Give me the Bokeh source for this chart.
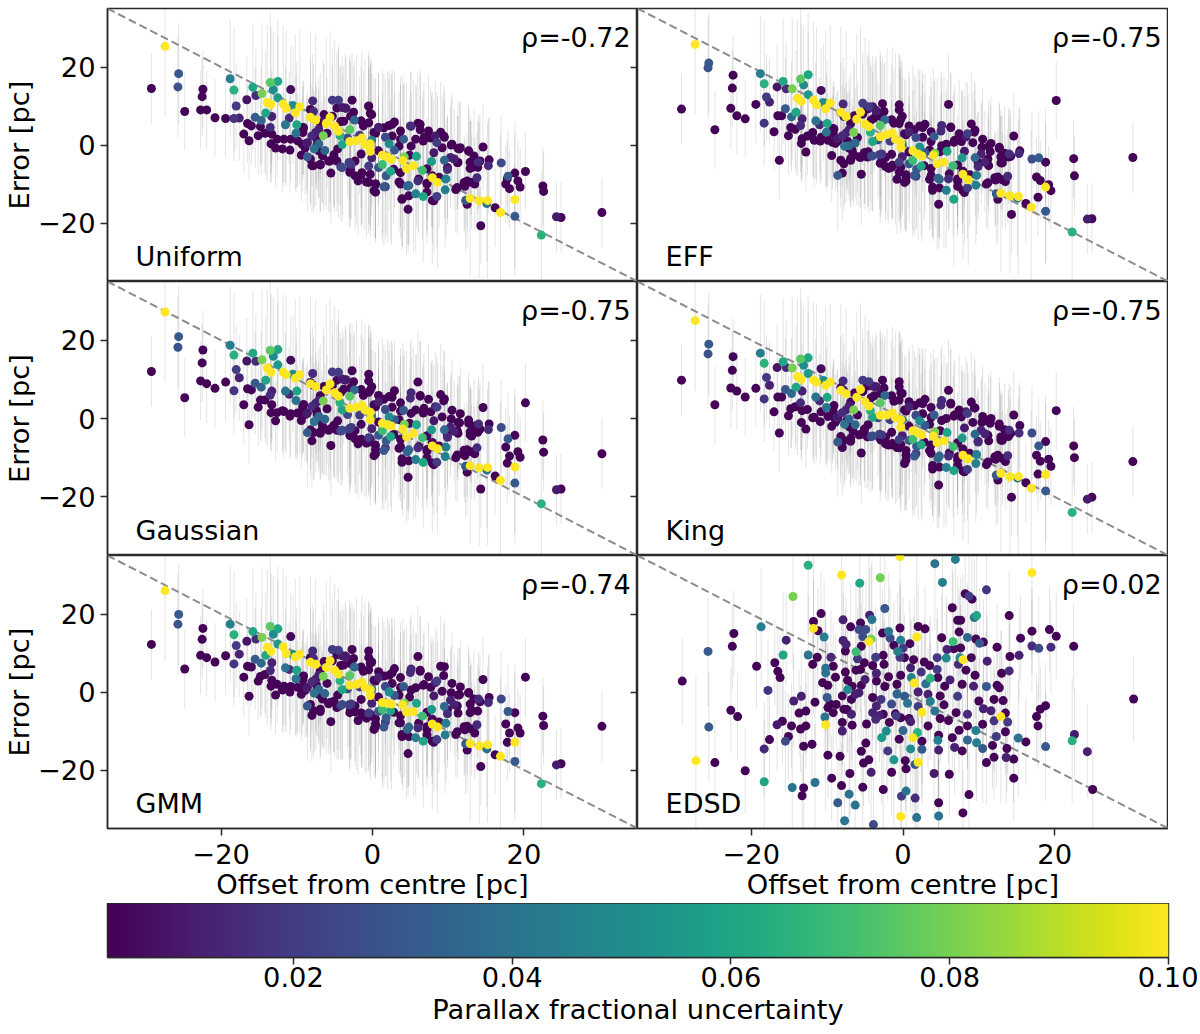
from bokeh.plotting import figure
from bokeh.layouts import column, row
from bokeh.models import FixedTicker, Label, LinearAxis, LinearColorMapper, ColumnDataSource
from bokeh.palettes import Viridis256
from bokeh.embed import file_html
from bokeh.resources import INLINE
import numpy as np

offset = [
-27.4,-29.2,-25.6,-25.7,-24.8,-22.4,-22.5,-22.7,-21.9,-20.8,
-19.4,-18.3,-17.6,-18,-16.6,-18.8,-18.3,-15.8,-14.6,-15.4,
-13.5,-12.5,-13.1,-10.8,-12.5,-13.9,-13.4,-11.8,-11.4,-10.5,
-9.6,-10.2,-14.1,-15.5,-14.7,-13.3,-16.5,-16,-14.8,-13.5,
-17,-16.3,-15.1,-14.2,-13.3,-12.6,-13.4,-12.8,-11.9,-10.9,
-11.7,-10.8,-9.9,-8.7,-9.4,-8.6,-8,-6.9,-7.7,-7.1,
-6.3,-11.5,-11,-10,-10.1,-9.2,-7.9,-5.3,-4.5,-2.7,
-4,-3.5,-2.5,-.5,-.3,-7.8,-8.2,-7.5,-5.6,-6.1,
-5,-4.5,-3,-6.5,-4.3,-4,-3,-2.1,-1.4,-1,
-.3,-.3,1.3,2,2.5,1.3,2.4,4,4.5,5.4,
4.2,5.8,6.6,7.8,7.9,8.6,9.7,9.6,6.7,5.7,
12.9,14.1,15.2,15.1,16.9,18.8,18.8,22.3,30.3,24.3,
24.9,22.5,22.6,14.3,20.2,17.9,18.8,17.6,19.2,18.1,
19.5,16.2,17.8,14.6,17,15.4,15.3,14,12.7,12.9,
13.9,13.8,12.9,11.3,11.5,10.4,10.8,11.3,12.2,13.5,
11,12.3,12.5,6,2.9,5.1,6.3,9,9.5,8.5,
7.7,4.1,5.1,6.7,.8,2.2,-1.5,-2.4,-4.2,-6,
-3.3,-1.7,.4,1.7,-.1,2.2,-5.1,-4.2,-2.8,-5.5,
-3,-1.9,-.8,.2,.4,1.5,-.5,-1.5,3.5,4.6,
3.9,4.7,7.9,8.5,6,7.2,9.9,9.5,8.1,2.9,
4.9,7.2,-7.4,-6.7,-5.6,-4.6,-1.5,-.1,.8,3.5,
-9.1,-9.2,-8.6,-9.3,-8.9,-7.5,-7.1,-6.9,-8,-7.3,
-7.1,-8.2,-7.8,-6.9,-6.6,-5.8,-5.1,-4.7,-4,-3.1,
-2.3,-2.9,-2.3,-1.4,-.5,.4,.4,1.7,-.3,.8,
1.8,2.8,3.7,3.7,4.8,6.1,7.2,7.9,8.8,9.9,
11.2,10.3,9.2,8.3,7.4,6.3,5,3.7,2.6,1.5,
.8,.2,2.6,3.7,5.7,6.8,9.4,10.5,11.6,12.7,
13.4,13.1,14.2,12.5,13.1,12.1,11.2,7.2,4.8,3.9,
8.1,-3.8,-2.9,-1.2,-.5,-.1,-.5,-3.6,-4.7,-5.3,
-6.4,-8.2,
]

frac_unc = [
.1,.004,.03,.028,.004,.004,.004,.004,.004,.004,
.004,.018,.012,.02,.008,.045,.065,.06,.08,.015,
.075,.06,.05,.006,.055,.1,.1,.1,.1,.05,
.1,.1,.06,.03,.035,.012,.004,.004,.004,.015,
.004,.004,.004,.004,.004,.004,.004,.004,.004,.004,
.004,.004,.004,.01,.004,.03,.004,.004,.04,.035,
.035,.04,.015,.06,.04,.004,.015,.02,.02,.004,
.01,.01,.004,.004,.004,.015,.1,.1,.1,.1,
.1,.1,.075,.08,.065,.06,.1,.1,.1,.1,
.1,.1,.1,.1,.1,.07,.06,.1,.1,.1,
.08,.06,.07,.055,.1,.1,.045,.045,.06,.045,
.1,.1,.1,.04,.1,.1,.03,.065,.004,.01,
.004,.004,.004,.004,.004,.03,.004,.004,.004,.004,
.004,.004,.004,.004,.025,.004,.015,.015,.004,.004,
.004,.015,.004,.004,.004,.004,.012,.004,.004,.004,
.004,.03,.004,.004,.004,.015,.004,.004,.004,.02,
.004,.03,.004,.004,.004,.004,.004,.035,.004,.004,
.025,.02,.004,.025,.045,.05,.004,.02,.018,.004,
.004,.004,.004,.004,.004,.03,.02,.004,.004,.035,
.004,.004,.004,.02,.015,.004,.015,.035,.01,.03,
.004,.004,.004,.004,.004,.004,.004,.012,.004,.004,
.004,.004,.004,.004,.004,.012,.012,.004,.015,.004,
.004,.004,.004,.004,.004,.004,.004,.004,.025,.02,
.004,.004,.004,.004,.004,.004,.004,.02,.004,.03,
.03,.004,.004,.004,.035,.004,.004,.004,.004,.004,
.004,.012,.004,.01,.004,.004,.015,.004,.004,.004,
.012,.004,.004,.004,.004,.004,.004,.004,.004,.004,
.004,.004,.004,.004,.004,.004,.004,.004,.004,.004,
.004,.004,.004,.004,.004,.004,.004,.004,.004,.004,
.004,.004,
]

error_bar = [
18,9,13,13,10,10,10,10,10,10,
10,11,11,11,11,15,16,16,18,12,
18,16,15,11,16,20,20,20,20,15,
20,20,16,13,14,12,10,10,10,12,
10,10,10,10,10,10,10,10,11,11,
12,11,12,12,12,14,12,12,15,14,
14,15,12,16,15,12,12,13,13,12,
13,13,12,13,13,12,22,22,22,22,
22,22,18,19,18,18,22,22,22,22,
22,22,22,22,22,18,18,22,22,22,
19,18,18,17,22,22,15,15,17,15,
20,20,20,15,20,20,13,16,9,9,
9,10,10,10,10,12,10,10,10,10,
10,10,10,11,12,11,12,12,11,12,
12,12,12,12,12,12,13,12,12,12,
11,13,11,13,13,14,14,13,12,13,
13,14,14,13,14,14,14,15,14,14,
15,15,14,15,17,17,13,14,14,13,
14,14,14,12,14,15,15,13,13,15,
12,11,11,13,13,12,14,15,14,15,
14,13,13,13,13,14,14,15,14,14,
12,12,13,12,12,13,13,13,13,12,
12,12,12,12,12,13,13,13,14,14,
14,13,14,14,13,14,13,14,13,15,
15,14,14,14,15,14,13,13,13,13,
12,13,13,14,14,14,14,14,14,14,
14,14,14,14,14,14,13,13,12,12,
12,12,12,12,12,12,12,13,13,13,
13,14,14,14,14,14,14,14,14,13,
13,13,
]

err_uniform = [
25.3,14.5,18.3,14.9,8.6,14.3,12.4,9,9,7,
6.8,6.8,6.9,10,11.6,17,14.1,14.8,13.2,12.7,
16,16.3,14.2,14.2,12.1,10.9,10.4,10.5,9.4,10.1,
9.8,8.3,8.2,7.1,6.3,7.3,5.5,4.9,4.7,4.5,
2.8,1.1,2.4,3,2.8,1.5,.3,-.8,-1,-1.3,
1.5,1.5,1.1,.4,-2.6,-3,-5.3,-5,-1,.3,
-1.4,5.2,6.9,5.2,3,4.5,11.3,11.5,11.5,11.5,
9.6,9.4,8.4,9.9,8.1,8.6,7.1,6.4,7.1,5.5,
4.9,3.5,3.9,2.4,2.4,.1,.9,1.1,1.8,.1,
.3,-1.6,-2.6,-3.1,-3.7,-5,-6.7,-4,-6.1,-5.3,
-3.1,-2.9,-6.5,-4.2,-8.4,-9.6,-8.7,-11.5,-13.2,-12.5,
-13.7,-14.2,-14.2,-15,-17.3,-14,-18.3,-23.1,-17.3,-18.4,
-18.6,-10.5,-11.9,-20.7,-6.8,-8,-7.2,-10,-9.2,-11.2,
-10.8,-16.1,-8.7,-.5,-4.6,-3.8,-5.3,-4.4,-1.6,-4.4,
-5.7,-8.4,-6,-.9,-1,0,-3.6,-4.5,-10.6,-10,
-11.4,-14.2,-15.2,5.6,5.9,4.8,3.9,3.3,2,.6,
1.8,1.5,-.3,1,4.5,5,6.2,6.4,6,3,
1.8,2.5,3,2,1.2,.3,-2.5,-5.6,-5,-7.2,
-7,-9.2,-9.5,-11.7,-10,-10.7,-5.4,-7.7,-9.5,-10.5,
-13.9,-16.5,-14.2,-13.2,-9.2,-9.8,-6.3,-3.9,-2,-1.3,
-2.6,-6.1,1.8,-1.8,-4.1,-1,-2.3,-3.3,-1.5,-.3,
4.4,3.2,.6,.2,-.8,3.2,4,5.7,2.3,.2,
-1.5,-3.6,-5.3,-5.1,-2.8,-4.1,-3.2,-4.1,-5.8,-4.5,
-4.1,-6.2,-7.9,-7.1,-9.6,-10,-12.1,-10.7,-7.5,-5.8,
-7.9,-6.2,-7.1,-10,-10.4,-8.7,-10,-7.9,-8.3,-5.8,
-4.5,-3.2,-.7,2.3,3.6,5.3,4.9,3.6,5.3,4.4,
4.4,3.2,2.3,1.5,1.5,1.9,2.3,.2,-.7,-1.5,
-2.8,-5.8,-4.1,-9.2,-9.6,-9.6,-10.9,-12.1,-13,-13.8,
-14.3,6.1,7.4,4.9,5.7,7.8,10,9.5,9.5,7.4,
7.8,9.1,
]

err_eff = [
25.8,9.2,21,19.8,3.9,17.9,14.6,9.4,7.5,6.7,
10.4,5.6,11,12.3,14.9,18.3,15.7,16.3,14.4,14.4,
16.9,18,15.4,14,12.9,12,11.2,11.5,10.3,10.9,
10.8,9.3,8.4,9.3,7.2,6.7,7.5,7.5,4.5,5,
3.4,-3.9,2.4,4,1.6,2.3,.4,-1.8,3.2,1,
1.2,2,1.2,1.6,-2.7,-7.8,-7.2,-3.5,-.3,-.2,
.5,6.2,5.2,5.5,3.3,4.2,10.5,10.7,9.8,10.6,
9.8,8.7,8.6,10.3,6.6,7.3,8.4,7.3,8.4,6.6,
5.4,4.7,5,3.2,3.3,.9,2.1,2.7,3.1,1.5,
.6,-.6,-1.5,-2.3,-2.8,-3.9,-5.4,-2.6,-4.8,-4.4,
-2.1,-1.6,-5.3,-3.3,-7.5,-8.9,-7.8,-10.3,-13.9,-11.6,
-12.4,-13,-13.2,-13.6,-16,-10.8,-17,-22.3,-3.2,-19,
-18.9,-3.5,-7.9,-17.8,11.4,-3.3,-4.4,-8.2,-10.2,-9.1,
-11.7,-15,-13.4,2.3,-3.6,-1.5,-2.2,-2.3,-.6,-3,
-3.1,-8,-4.6,-.3,-1.7,-.6,-4.4,-5.3,-9,-9.4,
-10,-12.5,-13.9,10.4,5.3,5,4.5,5.4,3.8,2.9,
.9,2.2,-.2,.7,4.9,4.9,6.5,6.5,6.4,1.9,
1.3,1,2.6,1.9,.2,-.5,-2,-2.8,-2.3,-7.5,
-4.7,-6,-8.8,-9.6,-8.3,-7.8,-4.4,-5.7,-8.8,-8.5,
-11.6,-15.2,-11.7,-11,-8.7,-9.3,-5.5,-3.3,-1.6,-2,
-1.7,-5.1,.8,-1.3,-3.2,-1.7,-2.4,-3,-1.8,-1.3,
4.1,2.9,1,.7,.4,3.1,3.9,5.5,2.4,.9,
-.8,-3.9,-4.8,-3.9,-2.2,-3,-2.1,-3.1,-2.8,-2.5,
-3.2,-4.5,-5.5,-5.2,-7,-7.6,-9.2,-8,-5.7,-4.8,
-6.2,-5.3,-6,-7.8,-8.8,-7.4,-8.7,-6.7,-7.6,-4.5,
-3.6,-2.3,.6,2.1,2.9,4.6,3.6,3.4,4.5,3.9,
3.3,2.9,2,.9,.2,1.2,3.3,1.5,.4,-.9,
-2.1,-4.6,-2.9,-8.2,-8.9,-8.4,-9.7,-10.6,-11,-10.8,
-12.2,6.9,7.3,5.6,5.5,7.4,9,8.9,9.2,7.9,
7.5,8.3,
]

err_gaussian = [
27.2,12,20.9,18.2,5.3,17.5,14.2,9.6,8.9,7.7,
9.3,7.1,10.4,12.5,14.7,18.7,16.2,16.7,15,14.6,
17.4,17.6,15.9,14.9,13.7,12.9,11.8,11.8,11.2,11.3,
11.2,10.3,9.8,9,8,7,7.6,7.3,4.7,6,
3.5,-1.6,2.9,4.7,3.5,1.5,1.5,-.6,2,.6,
1.8,1.2,1.4,1.2,-.5,-3.6,-5.7,-3.4,-.8,.5,
-.2,7,6.2,7,4.6,3.2,11.5,11.9,11.8,12.2,
10.1,9.9,9.4,11.3,7.2,8.5,8.9,8.2,8.8,7.3,
6.6,5.7,5.7,4.5,4.1,2.2,2.6,2.9,3.4,2.2,
1.6,-.3,-1.2,-1.6,-1.9,-3.1,-4.6,-2.7,-4.7,-3.8,
-1.5,-1.6,-4.9,-2.9,-7,-7.7,-7.3,-9.7,-11.2,-10.5,
-12.1,-12.6,-12.5,-13.2,-15.8,-12.4,-16.5,-21.8,-9,-18.2,
-18,-5.5,-8.6,-18,4,-5.2,-4.3,-7.3,-8.5,-9.6,
-9.9,-14.7,-11.4,2.8,-2.3,-1.4,-2.8,-1.4,-1.2,-3.4,
-3.5,-7.5,-4.2,-1,-1.1,-.1,-3.3,-3.8,-9.5,-9,
-10,-12.2,-13.7,9.3,7.1,6.6,5.9,6.1,5,2.9,
1.7,2.1,1.3,1.4,5.9,5.6,7.4,7.3,6.6,2.5,
1,.9,3,2.3,.5,.4,-1.7,-3.2,-2.3,-6.9,
-4.3,-6.5,-6.3,-9.5,-7.9,-8.2,-4.9,-5.3,-7.6,-8.5,
-11.2,-15,-11.4,-11.2,-7.5,-8.3,-4.8,-2.9,-.6,-.3,
-1.2,-4.4,2,-.9,-2.7,-.6,-1.5,-2.6,-.9,-.3,
3.6,2.8,1.4,1.9,1,3.9,4.6,5.8,3.1,1.1,
-.4,-2.9,-3.6,-3.8,-1.9,-3,-2,-3,-3,-2.7,
-3.1,-4.4,-5.2,-5.5,-6,-6.8,-9,-7.5,-5.2,-4.3,
-5.7,-4.1,-5.3,-7.2,-8,-7.2,-7.9,-6.1,-7,-4,
-3.1,-2.2,.4,3,4.9,5.7,5.2,4,5.4,4.9,
4.2,3.5,2.9,1.9,2.2,2.6,4.5,2.1,1.2,-.4,
-1.9,-4.5,-2.7,-8,-8.5,-8.1,-9.3,-10,-10.8,-10.3,
-11.8,7.5,7.8,5.9,6.7,8.1,9.6,9.8,9.8,8.4,
8.2,9.2,
]

err_king = [
25,9.8,19,16.5,3.5,15.8,12.3,7.8,7,5.5,
7.7,5,8.5,10.5,13,16.7,14.1,14.5,12.9,13,
15.2,15.5,13.6,12.7,11.5,10.7,10,9.8,9.3,9.7,
9.3,8.5,8,7.4,6.4,7,5.5,5.5,2.5,4,
1.7,-3.7,.7,3,2,2.3,-1,-2.7,.2,-.8,
.3,1.7,.5,.2,-2,-6,-7.4,-5,-1.5,-.1,
-1.6,5.5,4.5,5.4,2.8,3,9.6,9.8,9.4,9.8,
8.3,8,7.8,9.4,6.6,7.2,7.2,6.3,7.4,5.4,
4.3,3.2,4,2.2,2,.3,.8,.9,1.4,.2,
-.3,-2.2,-3.1,-3.7,-4.2,-5.3,-6.7,-4.5,-6.2,-5.7,
-3.4,-3.6,-7.2,-5,-9.4,-10.3,-9.2,-11.5,-13.3,-12.5,
-14,-14.9,-14.8,-15.2,-17.8,-14.3,-18.5,-24,-11,-20.6,
-20.1,-7,-10,-20.1,2,-7,-5.9,-9.4,-10.4,-10.9,
-12.2,-16.4,-14.2,.9,-3.7,-1.8,-3.7,-3,-2,-4.7,
-4.6,-9.5,-5.5,-.7,-1.2,-1,-3.9,-5.7,-10.4,-11,
-11.8,-14.5,-15.7,7.2,4.9,4.6,3.9,4.2,2.7,1.3,
.4,.9,-.5,.6,4.3,4,5.8,5.9,5.3,.9,
.2,-.3,1.9,.8,-.3,-.6,-2.7,-4.6,-4.2,-8.8,
-5.2,-6.8,-7.4,-11.5,-9.4,-9.6,-5.4,-6.7,-8.2,-10.2,
-12.9,-17,-13.4,-13,-9.6,-10.6,-6,-4,-2.4,-1.8,
-3.1,-6.2,-.5,-2.4,-4.1,-1.6,-3.5,-4.4,-2,-1.5,
3.3,1.7,0,.6,-.9,2.2,3.2,4.2,1.5,-.4,
-2.1,-4.6,-5.6,-5.8,-3.2,-4.2,-3.2,-4.7,-4.5,-4,
-4.8,-5.5,-6.5,-6.4,-7.5,-8.2,-10.6,-9,-6.6,-5.6,
-7.1,-6,-6.8,-8.9,-9.6,-8.8,-9.8,-7.8,-8.9,-5.8,
-4.3,-3,-1,1.7,2.2,3.7,3.4,2.8,3.8,3.3,
3,2.2,1.2,.3,0,.9,2.7,.5,0,-1.4,
-2.9,-5.6,-3.8,-9.4,-10.2,-9.8,-11.1,-11.9,-12.4,-12,
-13.6,5.8,6.4,4.4,4.7,6.4,8.1,8.1,8.3,6.9,
6.5,7.9,
]

err_gmm = [
26,12.2,19.9,17.4,5.9,16.3,13.5,9.4,8.8,7.7,
9.3,7.2,9.7,11.9,13,17.4,14.7,15.5,14,13.6,
16.8,16.2,14.8,14.2,12.3,11.5,10.4,11.6,9.8,9.6,
9.7,9,9.4,8.4,7.4,7.5,6.6,6.4,4,5.5,
3.8,-1.1,2.8,4.5,3,2,1.5,-.8,.5,0,
1.5,1.4,1.2,1,-.6,-3.6,-6,-4.4,-.3,.7,
-.4,6.2,5.8,5.6,3.4,4,10.5,10.9,10.7,10.9,
9.3,9,8.6,10.5,7.4,8.6,7.6,7.1,8,6.3,
5.6,4.6,4.2,4,2.9,.6,1.7,2,2.5,1.2,
.6,-.9,-2.7,-2.9,-3.1,-4.5,-4.8,-3.3,-5.2,-5,
-2.8,-2.9,-6.2,-4.5,-8.2,-9,-8,-11,-12.6,-11.7,
-13.2,-13.8,-13.5,-14.6,-16.5,-12.9,-17.8,-23.5,-8.8,-18.7,
-18.4,-6.2,-8.6,-19.1,3.8,-5,-5.3,-8.2,-9.2,-10.5,
-10.5,-16.1,-12.9,3.2,-1.8,-1.4,-2.7,-1.8,-.3,-3.1,
-4.9,-8.4,-5.3,-.8,-.7,-.2,-3.3,-5.4,-9.7,-10.5,
-10.9,-13.3,-14.9,9.1,6,5.9,5.3,6.6,6.5,2.8,
1.2,1.4,.5,1.7,5.2,4.3,6.4,6.4,6.8,2.2,
.8,1.3,2.8,1.4,.7,0,-2.5,-3.5,-3.1,-7.6,
-5.3,-7.3,-6.7,-9.6,-8.2,-9,-5.4,-5.4,-7.9,-9.6,
-11.4,-15.8,-12.6,-12.2,-9.2,-9.6,-5.6,-3.7,-1,-.9,
-1.3,-5.2,1.8,-1.3,-2.7,-.8,-1.9,-2.9,-1.3,-.8,
4.1,3.1,1.2,1.1,.4,3.3,4.3,5.4,2.6,.8,
-.5,-3.2,-4.8,-5,-1.8,-3,-2.4,-4,-3.2,-3.3,
-3.6,-4.5,-5.1,-5.5,-6.2,-6.9,-8.9,-7.7,-5.7,-5,
-6.6,-5.2,-6.1,-7.9,-9,-8,-8.9,-7,-7.7,-4.5,
-3.6,-2.1,.2,2.4,3.9,5.6,5,3.7,4.9,4.1,
3.7,3,2.2,1.2,1.1,1.9,4.2,2.2,1.3,-.1,
-1.8,-4.7,-2.5,-8.8,-9.5,-8.9,-10.2,-11,-11.4,-10.9,
-12.9,6.9,7.3,5.3,5.7,7.7,8.8,9.2,9.6,8,
7.8,8.8,
]

edsd_offset = [
-12.5,-8.1,-5.7,-3,-.4,4.2,6.9,5.2,17,-14.5,
11,8.2,8.7,9.1,6.5,-2.4,-10.8,-11.8,-7.9,-4.4,
-4.1,-5.6,-6.9,7.2,7.6,9.4,9.7,14,-18.7,-11.8,
-11.2,-22.3,-5.8,-4.9,-1.9,-.4,-2.7,2,2.9,7.4,
17,19.3,20.2,-15.4,-10.4,-7.9,-7.5,-5.3,-4.2,-4.5,
-1.7,-.3,1.8,5.1,6.6,8.5,9.6,10.1,10.6,15.5,
-22.5,-25.7,12.4,17,17.9,19.5,22.5,-15.8,-12.5,-11.3,
-9.5,-7.6,-6.2,-5.5,-6,-3.6,-2.6,-1.2,0,.9,
-.7,-.4,.2,1.4,2.8,4.5,5.7,5.8,6.7,7.6,
7.5,7.9,9,11.1,14.1,15.3,-16.9,-19.3,-11.9,-10.2,
-10.2,-9.2,-7.6,-6.2,-5.1,-4,-2.5,1,3.5,4.5,
7.3,8.3,14,13,-16.5,-16.2,-29.1,-10.6,-8.9,-7.3,
-5.6,-3.5,-1.9,-.3,1.1,2.4,3.6,3,1.5,4.6,
6.2,9.5,-17.8,-7.3,-9.9,-6.7,-5.5,-3.5,-2.4,-.8,
2,5.5,7.8,9.3,11,12.4,12.7,30.4,-13.4,-14.4,
-10,-8,-6.8,-5.8,-4,-2.9,-.8,.2,3.6,4.9,
7.2,10,12,13.2,-11.6,-9.9,-9.2,-7.8,-6.8,-3.5,
-1.5,.6,2,4.2,2.5,7,8.5,10.6,11.6,12.9,
13.5,18.8,18.1,17.6,-22.7,-21.8,-13.7,-12.8,-10.3,-4,
-3.6,-.3,1,4.9,12,13.8,17.8,-25.6,-10.2,-15.9,
-16.6,-14.7,-12.8,-13.5,-8,-6.7,-8,-1.8,-2.2,0,
1.9,3.3,4.7,7.4,8.5,9.6,10.5,13.5,12.3,22.6,
22.3,-17.6,-15.5,-15.1,-2.8,1.3,-.5,2.5,4.6,6.5,
8.5,9.7,11.8,15.2,16.2,18.8,-4.9,-18.3,-13.1,-12,
-5.5,-2,1,2.5,4.7,6.8,7.8,10.5,13.7,24.3,
-27.3,-24.8,-9.9,-8.3,-4.5,-5.2,-1.2,.3,2,1.6,
11,12,13.6,14.6,-20.8,-4.2,-7,-1.5,.4,4.1,
6.1,-9.4,14.6,-18.3,-11.6,-14.6,-13.1,-8.1,-5.3,-2.6,
.4,-7.1,-13.3,-.2,1.6,8.7,25,-8.6,-6.3,4.7,
7.9,-.3,1.8,4.7,-7.7,-3.9,-8.8,-6.3,-2.6,-.9,
.8,-5,-7.4,-9.6,3.3,5.4,6,-1,-3.1,-4.8,
]

edsd_error = [
32.5,30,27.9,29.3,34.7,32.9,34,28.1,30.6,24.5,
26.2,25.2,24.6,23.8,21.6,21.4,20.1,18.1,18.5,19.7,
18.6,17.7,16.7,18.4,18.4,19.1,19.6,19.6,16.7,16.3,
15.7,15,16,16,15.5,16.4,15.1,16.8,16.2,15.4,
15.6,16,14.3,13.3,14.1,13.2,12.2,14.2,13.6,12.9,
13.8,13.3,14.1,13.9,12.9,14,13.6,12.5,12.8,13.8,
11.7,10.4,11.5,11.8,11.2,11.5,11.7,9.5,9.5,8.9,
8.9,10.5,10.3,11.7,8.5,8.9,9.4,12,11.2,12.4,
10.4,8.9,8.8,8.3,7.7,8.8,8.7,10.9,11.1,11.3,
8.8,8.3,8.8,7.9,9.1,9.4,7.5,6.6,7.1,6.1,
4.9,6.6,5.1,5.6,7.5,6.8,7.1,6.2,6.8,5.8,
7.1,5.6,5.4,4.8,5.3,3.7,2.8,2.4,3.8,3,
5.8,4.8,3.9,4.3,3.7,5.1,3.5,2.1,2.3,3.7,
3.1,4.3,.4,.6,1.7,1.5,1.7,2.8,1.4,2,
0,1.5,2,1.5,1.4,1.7,1.1,-1.8,-1.1,-2.3,
-1.4,-1,-1.9,-.2,-1.4,-1.9,-.5,-1.1,-2.4,-1,
-1.1,-2.3,-1.9,-2.2,-2.6,-4,-5.3,-4.4,-5.7,-3.6,
-3.1,-2.9,-3.7,-4.9,-5.2,-5.3,-5.7,-4.3,-4.8,-6.3,
-5.4,-3.5,-4.4,-6.3,-4.7,-6.3,-5.4,-4.9,-6.4,-5.3,
-7,-6.6,-7.6,-6.8,-7.4,-7.7,-8.7,-9,-8.4,-7.5,
-8.4,-8.7,-8.7,-9.5,-7.8,-8.5,-10,-7.8,-10,-9.9,
-10.4,-8.7,-11.1,-9.8,-8.7,-9.9,-8.3,-10.2,-11.4,-10.9,
-12.5,-12.2,-12.6,-11.4,-11.7,-11.7,-12.1,-12.6,-12.4,-11.7,
-12.3,-13,-13.7,-11.8,-12.8,-14,-13.1,-14.6,-13.9,-13.4,
-15.2,-15.1,-14.6,-14.7,-14.9,-14.2,-15.1,-14.5,-14.5,-15.3,
-17.6,-18.1,-16.2,-16.5,-17.4,-18.2,-17.4,-17.6,-18,-18.6,
-18.1,-16.7,-16.8,-17.2,-20.2,-20.6,-20.9,-20.6,-19.7,-20.9,
-21.1,-22.1,-22.1,-23,-23.2,-24.5,-24.6,-24,-24.4,-25,
-25.4,-26.2,-26.6,-26.7,-27.2,-26.3,-25,-28.4,-29,-28.4,
-31,-31.9,-32.2,-31.8,-33,-34,-3.2,-.6,-5.7,-6.1,
-6.8,3.2,-4.5,-3.1,-.6,-3.3,-7.3,-5.6,-6,-8.2,
]

edsd_frac = [
.065,.1,.06,.08,.1,.04,.045,.045,.1,.08,
.018,.004,.02,.004,.004,.03,.004,.004,.012,.012,
.04,.004,.004,.004,.004,.04,.06,.004,.045,.1,
.004,.004,.025,.025,.04,.004,.004,.004,.004,.004,
.004,.004,.004,.012,.045,.012,.012,.025,.08,.1,
.025,.045,.1,.004,.07,.035,.004,.03,.004,.004,
.004,.03,.004,.015,.025,.015,.004,.06,.04,.004,
.015,.004,.07,.004,.018,.02,.004,.004,.02,.004,
.045,.02,.004,.004,.004,.02,.05,.012,.004,.004,
.05,.1,.004,.012,.004,.012,.004,.004,.004,.04,
.04,.004,.004,.004,.004,.004,.004,.012,.004,.02,
.015,.004,.015,.004,.004,.004,.004,.004,.004,.004,
.004,.012,.004,.004,.045,.018,.065,.04,.1,.004,
.012,.004,.018,.05,.004,.004,.004,.004,.004,.004,
.012,.004,.004,.012,.03,.004,.004,.004,.012,.012,
.03,.004,.004,.012,.004,.018,.035,.03,.045,.004,
.02,.004,.004,.004,.004,.004,.004,.004,.012,.012,
.025,.04,.02,.04,.1,.004,.015,.012,.012,.1,
.004,.004,.004,.004,.004,.004,.004,.004,.04,.012,
.015,.004,.012,.004,.018,.02,.004,.03,.1,.004,
.01,.004,.004,.004,.004,.004,.012,.004,.05,.035,
.065,.004,.004,.004,.004,.045,.004,.004,.02,.01,
.065,.004,.025,.004,.055,.1,.004,.004,.045,.004,
.035,.045,.004,.04,.004,.03,.004,.015,.004,.004,
.004,.02,.05,.03,.012,.012,.004,.03,.004,.012,
.1,.004,.004,.004,.004,.004,.055,.004,.1,.03,
.004,.004,.012,.004,.004,.012,.004,.004,.004,.01,
.004,.004,.004,.06,.04,.04,.004,.004,.004,.004,
.04,.04,.004,.02,.015,.004,.004,.03,.04,.004,
.004,.1,.04,.04,.04,.025,.004,.012,.004,.02,
.004,.012,.004,.004,.012,.004,.004,.004,.012,.004,
]

edsd_bar = [
18,22,18,19,22,17,17,17,22,19,
12,11,12,11,11,14,11,11,12,12,
15,11,11,11,11,15,16,11,15,22,
11,11,13,13,15,11,11,11,11,11,
11,11,11,12,15,12,12,13,19,22,
13,15,22,11,18,14,11,14,11,11,
11,14,11,12,13,12,11,16,15,11,
12,11,18,11,13,13,11,11,13,11,
15,13,11,11,11,13,16,12,11,11,
16,22,11,12,11,12,11,11,11,15,
15,11,11,11,11,11,11,12,11,13,
12,11,12,11,11,11,11,11,11,11,
11,12,11,11,15,13,16,15,22,11,
12,11,13,16,11,11,11,11,11,11,
12,11,11,12,14,11,11,11,12,12,
14,11,11,12,11,13,14,14,15,11,
13,11,11,11,11,11,11,11,12,12,
13,15,13,15,22,11,12,12,12,22,
11,11,11,11,11,11,11,11,15,12,
12,11,12,11,13,13,11,14,22,11,
12,11,11,11,11,11,12,11,16,14,
16,11,11,11,11,15,11,11,13,12,
16,11,13,11,17,22,11,11,15,11,
14,15,11,15,11,14,11,12,11,11,
11,13,16,14,12,12,11,14,11,12,
22,11,11,11,11,11,17,11,22,14,
11,11,12,11,11,12,11,11,11,12,
11,11,11,16,15,15,11,11,11,11,
15,15,11,13,12,11,11,14,15,11,
11,22,15,15,15,13,11,12,11,13,
11,12,11,11,12,11,11,11,12,11,
]

panels = ["Uniform", "EFF", "Gaussian", "King", "GMM", "EDSD"]
rhos = ["ρ=-0.72", "ρ=-0.75", "ρ=-0.75", "ρ=-0.75", "ρ=-0.74", "ρ=0.02"]
axis_ticks = [-20, 0, 20]
axis_tick_labels = {-20: "−20", 0: "0", 20: "20"}
blank_tick_labels = {-20: "", 0: "", 20: ""}
cbar_ticks = [0.02, 0.04, 0.06, 0.08, 0.10]
cbar_labels = {0.02: "0.02", 0.04: "0.04", 0.06: "0.06", 0.08: "0.08", 0.1: "0.10"}
line_ends = [-35, 35]
line_vals = [35, -35]
frac_low, frac_high = 0.003, 0.10

FONT = "DejaVu Sans"
FS = "27.3px"
SPINE = "#2a2a2a"
mapper = LinearColorMapper(palette=Viridis256, low=frac_low, high=frac_high)


def style_axis(ax, ticks=axis_ticks):
    ax.ticker = FixedTicker(ticks=ticks)
    ax.major_tick_line_color = SPINE
    ax.major_tick_line_width = 1.5
    ax.minor_tick_line_color = None
    ax.axis_line_color = SPINE
    ax.axis_line_width = 1.5
    ax.major_label_text_font = FONT
    ax.major_label_text_font_size = FS
    ax.major_label_text_color = "black"
    ax.axis_label_text_font = FONT
    ax.axis_label_text_font_size = FS
    ax.axis_label_text_font_style = "normal"
    ax.axis_label_text_color = "black"


def panel(idx, xs, ys, cs, bars, frame_w, frame_h, left, bottom, top):
    p = figure(frame_width=frame_w, frame_height=frame_h, x_range=(-35, 35), y_range=(-35, 35),
               output_backend="svg", toolbar_location=None,
               min_border_left=107 if left else 0, min_border_right=0,
               min_border_top=8 if top else 0, min_border_bottom=75 if bottom else 0)
    p.grid.visible = False
    p.outline_line_color = SPINE
    p.outline_line_width = 1.5
    p.background_fill_color = "white"
    # Draw the paler, more uncertain stars last, so the yellow band stays visible as in the reference.
    order = np.argsort(np.array(cs, dtype=float), kind="stable")
    xa = np.array(xs, dtype=float)[order]
    ya = np.array(ys, dtype=float)[order]
    ca = np.array(cs, dtype=float)[order]
    ba = np.array(bars, dtype=float)[order]
    src = ColumnDataSource(dict(x=xa, y=ya, c=ca, lo=ya - ba, hi=ya + ba))
    p.segment("x", "lo", "x", "hi", source=src, line_color="#000000", line_alpha=0.11, line_width=1)
    p.line(line_ends, line_vals, line_color="#8c8c8c", line_width=2, line_dash="8 4")
    p.scatter("x", "y", source=src, size=9, marker="circle", line_color=None,
              fill_color={"field": "c", "transform": mapper})

    style_axis(p.xaxis[0])
    style_axis(p.yaxis[0])
    if bottom:
        p.xaxis[0].major_label_overrides = axis_tick_labels
        p.xaxis[0].major_tick_in = 0
        p.xaxis[0].major_tick_out = 7
        p.xaxis[0].major_label_standoff = 8
        p.xaxis[0].axis_label = "Offset from centre [pc]"
        p.xaxis[0].axis_label_standoff = 2
    else:
        p.xaxis.visible = False
    if left:
        p.yaxis[0].major_label_overrides = axis_tick_labels
        p.yaxis[0].major_tick_in = 0
        p.yaxis[0].major_tick_out = 7
        p.yaxis[0].major_label_standoff = 5
        p.yaxis[0].axis_label = "Error [pc]"
        p.yaxis[0].axis_label_standoff = 0
        right_ticks = LinearAxis()
        style_axis(right_ticks)
        right_ticks.major_tick_in = 7
        right_ticks.major_tick_out = 0
        right_ticks.major_label_overrides = blank_tick_labels
        right_ticks.major_label_standoff = 0
        p.add_layout(right_ticks, "right")
    else:
        p.yaxis.visible = False

    p.add_layout(Label(x=-31.3, y=-28.6, text=panels[idx], text_font=FONT, text_font_size="27px",
                       text_color="black", text_baseline="alphabetic"))
    p.add_layout(Label(x=34.1, y=27.6, text=rhos[idx], text_font=FONT, text_font_size="27px",
                       text_color="black", text_align="right", text_baseline="alphabetic"))
    return p


p0 = panel(0, offset, err_uniform, frac_unc, error_bar, 530, 273, True, False, True)
p1 = panel(1, offset, err_eff, frac_unc, error_bar, 531, 273, False, False, True)
p2 = panel(2, offset, err_gaussian, frac_unc, error_bar, 530, 274, True, False, False)
p3 = panel(3, offset, err_king, frac_unc, error_bar, 531, 274, False, False, False)
p4 = panel(4, offset, err_gmm, frac_unc, error_bar, 530, 273, True, True, False)
p5 = panel(5, edsd_offset, edsd_error, edsd_frac, edsd_bar, 531, 273, False, True, False)

cb = figure(frame_width=1061, frame_height=54, x_range=(frac_low, frac_high), y_range=(0, 1),
            output_backend="svg", toolbar_location=None,
            min_border_left=107, min_border_right=30, min_border_top=0, min_border_bottom=68)
cb.grid.visible = False
cb.yaxis.visible = False
cb.outline_line_color = SPINE
cb.outline_line_width = 1.5
cb.image(image=[np.linspace(frac_low, frac_high, 512)[None, :]], x=frac_low, y=0,
         dw=frac_high - frac_low, dh=1, color_mapper=mapper)
style_axis(cb.xaxis[0], cbar_ticks)
cb.xaxis[0].major_label_overrides = cbar_labels
cb.xaxis[0].major_tick_in = 0
cb.xaxis[0].major_tick_out = 7
cb.xaxis[0].major_label_standoff = 2
cb.xaxis[0].axis_label = "Parallax fractional uncertainty"
cb.xaxis[0].axis_label_standoff = 4

page = column(row(p0, p1, spacing=0), row(p2, p3, spacing=0), row(p4, p5, spacing=0), cb, spacing=0)
open("out.html", "w").write(file_html(page, INLINE))
